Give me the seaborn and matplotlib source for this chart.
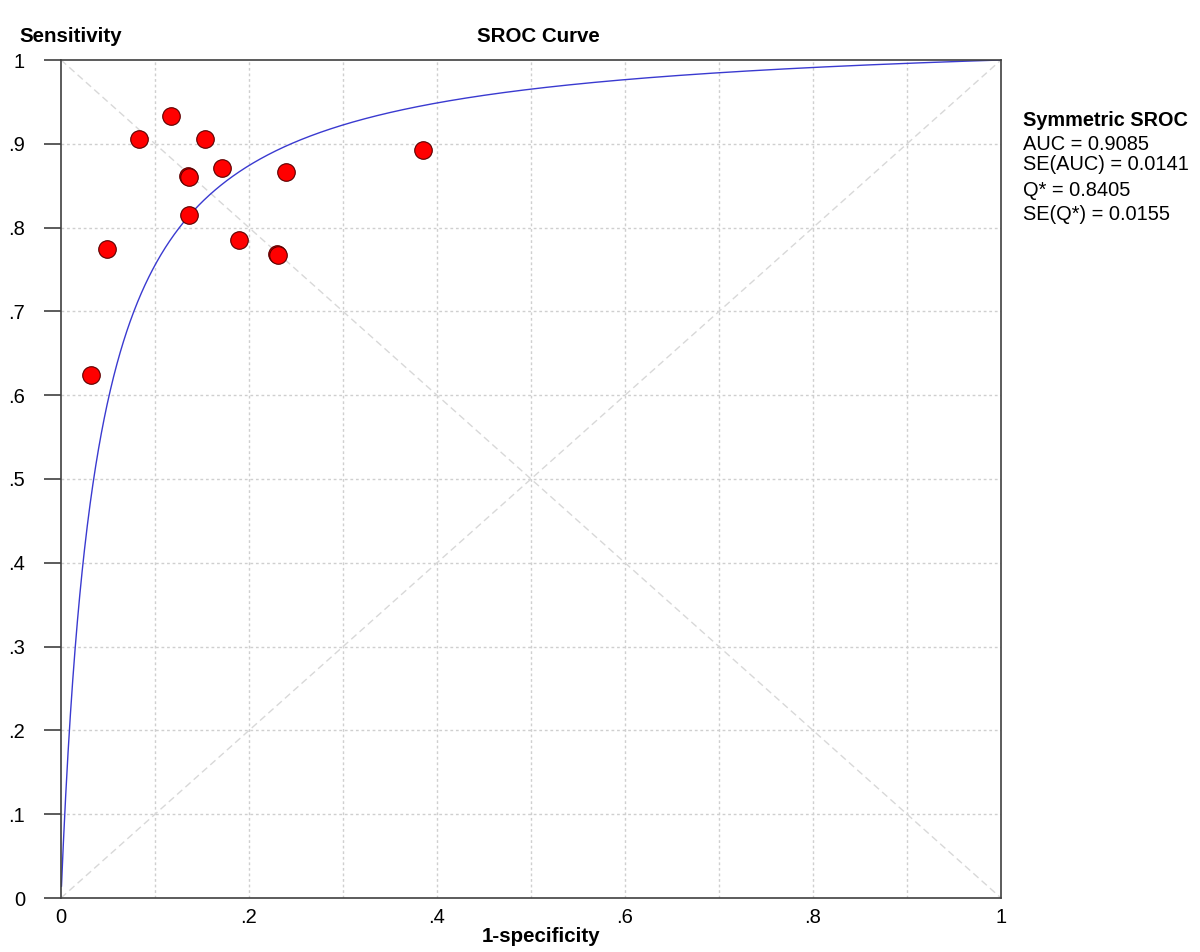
import numpy as np
import pandas as pd
import matplotlib
matplotlib.use("Agg")
import matplotlib.pyplot as plt
import seaborn as sns

# Study points (1-specificity, sensitivity)
fpr = [0.032, 0.049, 0.083, 0.117, 0.135, 0.136, 0.136, 0.153, 0.171, 0.189, 0.230, 0.231, 0.239, 0.385]
sens = [0.624, 0.774, 0.906, 0.933, 0.861, 0.860, 0.815, 0.906, 0.871, 0.785, 0.768, 0.767, 0.866, 0.893]

auc_text = ["AUC = 0.9085", "SE(AUC) = 0.0141", "Q* = 0.8405", "SE(Q*) = 0.0155"]
q_star = 0.8405

tick_vals = [0, 0.1, 0.2, 0.3, 0.4, 0.5, 0.6, 0.7, 0.8, 0.9, 1.0]
y_tick_labels = ["0", ".1", ".2", ".3", ".4", ".5", ".6", ".7", ".8", ".9", "1"]
x_tick_vals = [0, 0.2, 0.4, 0.6, 0.8, 1.0]
x_tick_labels = ["0", ".2", ".4", ".6", ".8", "1"]

sns.set_style("white")
plt.rcParams['font.family'] = ['Liberation Sans', 'DejaVu Sans']
plt.rcParams['text.color'] = 'black'
plt.rcParams['xtick.color'] = 'black'
plt.rcParams['ytick.color'] = 'black'

fig = plt.figure(figsize=(12, 9.52), dpi=100)
ax = fig.add_axes([61/1200, 1-898/952, 940/1200, 838/952])

# grid
for v in tick_vals[1:-1]:
    ax.axhline(v, color='#cfcfcf', lw=1, ls=(0, (2, 2)), zorder=0)
    ax.axvline(v, color='#cfcfcf', lw=1, ls=(0, (2, 2)), zorder=0)
ax.plot([0, 1], [0, 1], color='#d8d8d8', lw=1, ls=(0, (5, 3)), zorder=0)
ax.plot([0, 1], [1, 0], color='#d8d8d8', lw=1, ls=(0, (5, 3)), zorder=0)

# symmetric SROC curve from Q*
a = 2 * np.log(q_star / (1 - q_star))
xc = np.linspace(0.0005, 1, 2000)
yc = 1 / (1 + np.exp(-a) * (1 - xc) / xc)
sns.lineplot(x=xc, y=yc, ax=ax, color='#3a3ad0', lw=1, zorder=2, sort=False)

df = pd.DataFrame({"fpr": fpr, "sens": sens})
sns.scatterplot(data=df, x="fpr", y="sens", ax=ax, s=160, color='#ff0000',
                edgecolor='#5a0000', linewidth=0.8, zorder=3)

ax.set_xlim(0, 1)
ax.set_ylim(0, 1)
ax.set_yticks(tick_vals)
ax.set_yticklabels(y_tick_labels, fontsize=14.5)
ax.set_xticks(x_tick_vals)
ax.set_xticklabels(x_tick_labels, fontsize=14.5)
ax.tick_params(axis='y', direction='out', length=12, width=1.2, color='#404040', pad=14, left=True)
ax.tick_params(axis='x', length=0, pad=7)
for s in ax.spines.values():
    s.set_color('#404040')
    s.set_linewidth(1.2)
ax.set_xlabel("")
ax.set_ylabel("")

fig.text(541/1200, 1-936/952, "1-specificity", fontsize=14.8, fontweight='bold', va='center', ha='center')
fig.text(19/1200, 1-36/952, "Sensitivity", fontsize=14.8, fontweight='bold', va='center', ha='left')
fig.text(538/1200, 1-36/952, "SROC Curve", fontsize=14.8, fontweight='bold', va='center', ha='center')
fig.text(1023/1200, 1-121/952, "Symmetric SROC", fontsize=14.3, fontweight='bold', va='center', ha='left')
ys = [144, 165, 190, 215]
for t, yy in zip(auc_text, ys):
    fig.text(1023/1200, 1-yy/952, t, fontsize=14.4, va='center', ha='left')

fig.savefig("out.png", dpi=100)
